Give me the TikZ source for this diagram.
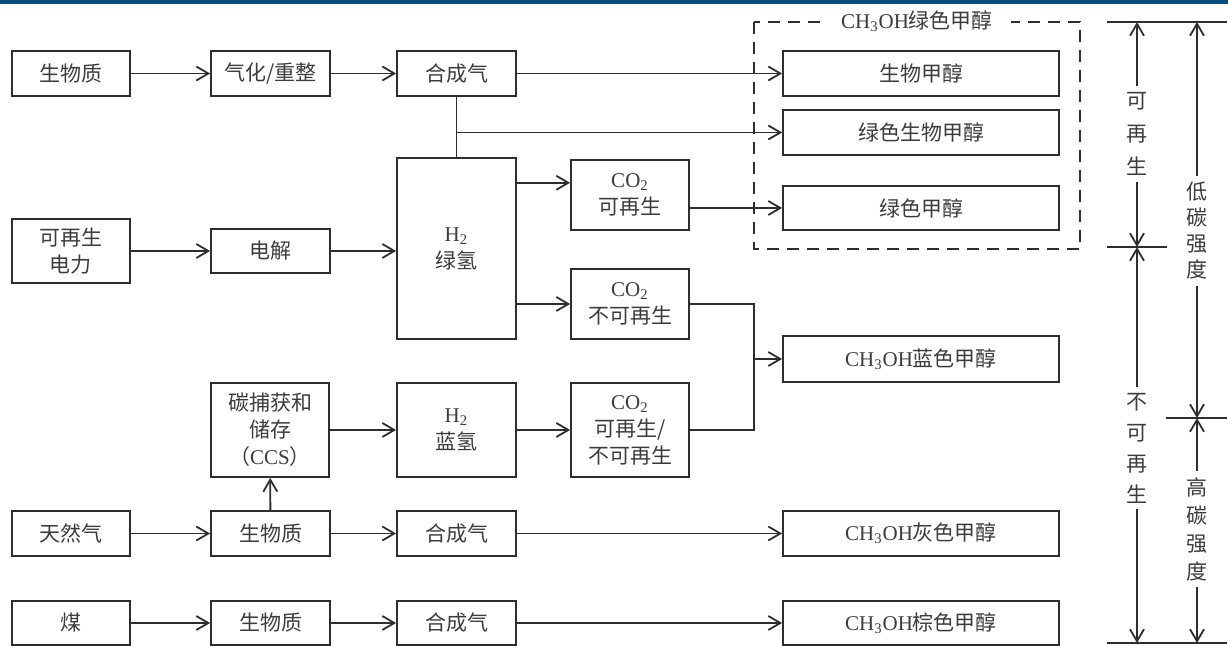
\documentclass[tikz,border=0pt]{standalone}
\usepackage{fontspec}
\setmainfont{Liberation Serif}
\newfontfamily\cjk{Noto Sans CJK SC}
\usetikzlibrary{arrows.meta,calc}
\newcommand\lat[1]{{\rmfamily #1}}
\definecolor{ink}{HTML}{2E2E2E}
\definecolor{txt}{HTML}{3C3C3C}
\definecolor{band}{HTML}{0B4F82}
\tikzset{
  box/.style={draw=ink, line width=0.9pt, inner sep=0pt, align=center, text=txt,
    font=\cjk\fontsize{10.5}{13.5}\selectfont},
  arr/.style={draw=ink, line width=0.9pt, -{Straight Barb[length=6pt,width=7pt]}},
  link/.style={draw=ink, line width=0.9pt},
  frame/.style={draw=ink, line width=0.9pt, dash pattern=on 6pt off 4pt},
  vlabel/.style={align=center, text=txt, inner xsep=0pt, inner ysep=3pt},
}
% box by its corner pixels: name, x1, y1, x2, y2, text
\newcommand\bx[6]{%
  \pgfmathsetmacro\bxw{(#4-#2)*0.5}%
  \pgfmathsetmacro\bxh{(#5-#3)*0.5}%
  \node[box, minimum width=\bxw pt, minimum height=\bxh pt]
    (#1) at ({(#2+#4)/2},{(#3+#5)/2}) {#6};}
\begin{document}
\begin{tikzpicture}[x=0.5pt, y=-0.5pt]
\useasboundingbox (0,0) rectangle (1228,646);
\fill[band] (0,0) rectangle (1228,4.5);

% ---- boxes ----
\bx{bioA}{12}{51}{130}{96}{生物质}
\bx{gasA}{211}{51}{330}{96}{气化/重整}
\bx{synA}{397}{51}{516}{96}{合成气}
\bx{bm}{783}{51}{1059}{96}{生物甲醇}
\bx{gbm}{783}{110}{1059}{155}{绿色生物甲醇}
\bx{gm}{783}{186}{1059}{230}{绿色甲醇}

\bx{pow}{12}{219}{130}{283}{可再生\\电力}
\bx{ely}{211}{229}{330}{273}{电解}
\bx{hg}{397}{158}{516}{339}{\lat{H\textsubscript{2}}\\绿氢}
\bx{coA}{571}{160}{689}{230}{\lat{CO\textsubscript{2}}\\可再生}
\bx{coB}{571}{269}{689}{339}{\lat{CO\textsubscript{2}}\\不可再生}
\bx{coC}{571}{383}{689}{477}{\lat{CO\textsubscript{2}}\\可再生/\\不可再生}
\bx{blu}{783}{336}{1059}{382}{\lat{CH\textsubscript{3}OH}蓝色甲醇}

\bx{ccs}{211}{383}{329}{477}{碳捕获和\\储存\\（\lat{CCS}）}
\bx{hb}{397}{383}{516}{477}{\lat{H\textsubscript{2}}\\蓝氢}

\bx{ng}{12}{511}{130}{556}{天然气}
\bx{bioB}{211}{511}{330}{556}{生物质}
\bx{synB}{397}{511}{516}{556}{合成气}
\bx{gry}{783}{511}{1059}{556}{\lat{CH\textsubscript{3}OH}灰色甲醇}

\bx{coal}{12}{601}{130}{645}{煤}
\bx{bioC}{211}{601}{330}{645}{生物质}
\bx{synC}{397}{601}{516}{645}{合成气}
\bx{brn}{783}{601}{1059}{645}{\lat{CH\textsubscript{3}OH}棕色甲醇}

% ---- green methanol group ----
\draw[frame] (754,22) rectangle (1080,249);
\node[fill=white, inner xsep=9pt, inner ysep=1pt, text=txt,
  font=\cjk\fontsize{10.5}{13.5}\selectfont] (grp) at (917,21)
  {\lat{CH\textsubscript{3}OH}绿色甲醇};

% ---- connectors ----
\draw[arr] (bioA) -- (gasA);
\draw[arr] (gasA) -- (synA);
\draw[arr] (synA) -- (bm);
\draw[link] (synA.south) -- (hg.north);
\draw[arr] (synA.south |- gbm.west) -- (gbm.west);

\draw[arr] (pow.east |- ely.west) -- (ely.west);
\draw[arr] (ely.east) -- (hg.west |- ely.east);
\coordinate (inA) at ($(coA.north west)!0.33!(coA.south west)$);
\draw[arr] (hg.east |- inA) -- (inA);
\draw[arr] (hg.east |- coB.west) -- (coB.west);
\draw[arr] (coA.east |- gm.west) -- (gm.west);

\coordinate (jn) at (754,359);
\draw[link] (coB.east) -| (jn);
\draw[link] (coC.east) -| (jn);
\draw[arr] (jn) -- (blu.west);

\draw[arr] (ccs) -- (hb);
\draw[arr] (hb) -- (coC);

\draw[arr] (ng) -- (bioB);
\draw[arr] (bioB) -- (synB);
\draw[arr] (synB) -- (gry);
\draw[arr] (bioB) -- (ccs);

\draw[arr] (coal) -- (bioC);
\draw[arr] (bioC) -- (synC);
\draw[arr] (synC) -- (brn);

% ---- dimension scales ----
\coordinate (tk1a) at (1107,22);  \coordinate (tk1b) at (1227,22);
\coordinate (tk2a) at (1107,247); \coordinate (tk2b) at (1167,247);
\coordinate (tk3a) at (1166,418); \coordinate (tk3b) at (1227,418);
\coordinate (tk4a) at (1107,643); \coordinate (tk4b) at (1227,643);
\draw[link] (tk1a) -- (tk1b);
\draw[link] (tk2a) -- (tk2b);
\draw[link] (tk3a) -- (tk3b);
\draw[link] (tk4a) -- (tk4b);

\coordinate (rA) at (1137,22);  \coordinate (rB) at (1137,247); \coordinate (rC) at (1137,643);
\coordinate (cA) at (1197,22);  \coordinate (cB) at (1197,418); \coordinate (cC) at (1197,643);

\node[vlabel, font=\cjk\fontsize{10.5}{16.5}\selectfont] (ren) at (1137,134) {可\\再\\生};
\node[vlabel, font=\cjk\fontsize{10.5}{15.5}\selectfont] (nren) at (1137,448) {不\\可\\再\\生};
\node[vlabel, font=\cjk\fontsize{10.5}{13}\selectfont] (low) at (1197,231) {低\\碳\\强\\度};
\node[vlabel, font=\cjk\fontsize{10.5}{14}\selectfont] (high) at (1197,529) {高\\碳\\强\\度};

\draw[arr] (ren.north) -- (rA);
\draw[arr] (ren.south) -- (rB);
\draw[arr] (nren.north) -- (rB);
\draw[arr] (nren.south) -- (rC);
\draw[arr] (low.north) -- (cA);
\draw[arr] (low.south) -- (cB);
\draw[arr] (high.north) -- (cB);
\draw[arr] (high.south) -- (cC);
\end{tikzpicture}
\end{document}
